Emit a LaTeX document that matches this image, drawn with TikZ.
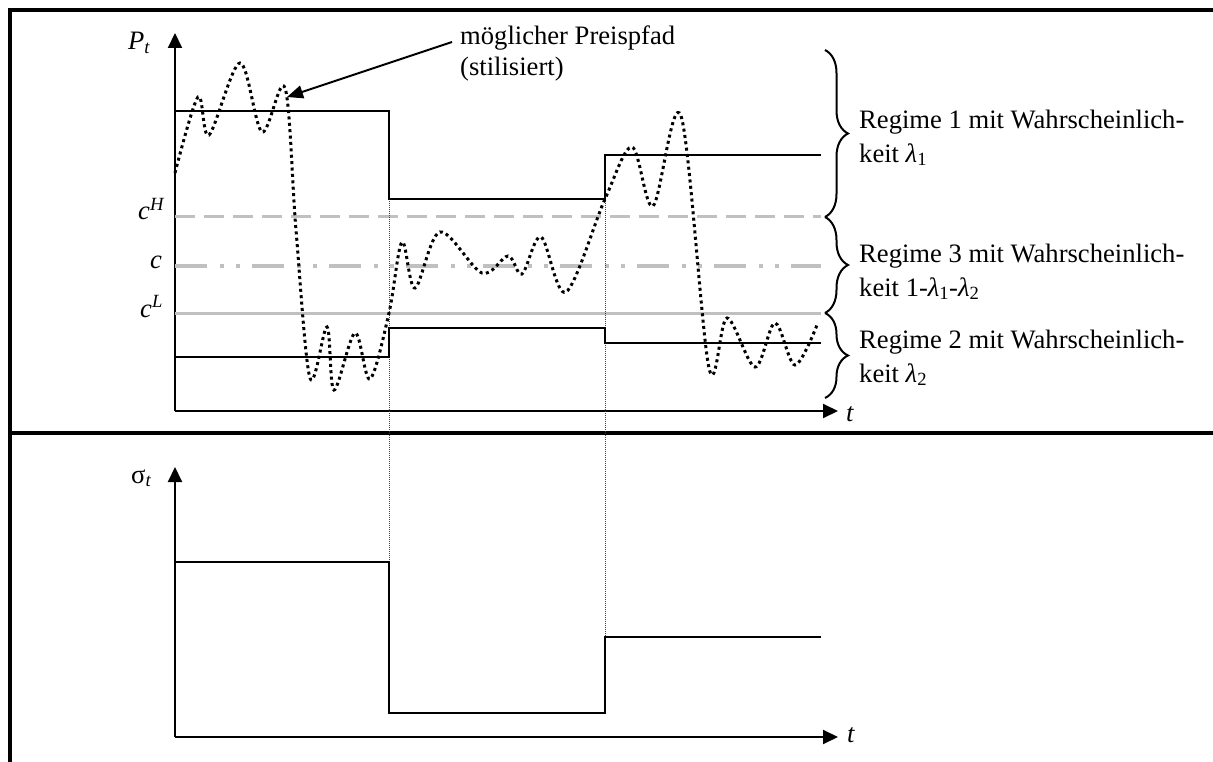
\documentclass[tikz,border=0pt]{standalone}
\usepackage{fontspec}
\setmainfont{Liberation Serif}
\usetikzlibrary{arrows.meta,decorations.pathreplacing}
\newcommand\lam[1]{\textit{λ}\textsubscript{#1}}
\begin{document}
\begin{tikzpicture}[x=1pt,y=-1pt,
  frame/.style={line width=3.8pt},
  axis/.style={line width=2pt,-{Triangle[length=15pt,width=14pt]}},
  stepline/.style={line width=2.6pt,line join=miter},
  guide/.style={line width=0.6pt,dash pattern=on 1pt off 1pt,black!75},
  pathdots/.style={line width=3pt,dash pattern=on 3pt off 3.4pt},
  levelgray/.style={color={rgb,255:red,192;green,192;blue,192}},
  lbl/.style={font=\fontsize{26.6}{33.5}\selectfont,inner sep=0pt},
  bracestyle/.style={line width=2pt,decorate,decoration={brace,amplitude=23pt}},
  pointer/.style={line width=2pt,-{Triangle[length=16pt,width=13pt]}}]
\useasboundingbox (0,0) rectangle (1213,762);
% frame
\draw[frame] (1213,10) -- (10,10) -- (10,762);
\draw[frame] (10,433) -- (1213,433);
% top panel axes
\coordinate (o1) at (175,411);
\draw[axis] (o1) -- (175,33);
\draw[axis] (o1) -- (838,411);
\node[lbl,anchor=base west] (pt) at (128,50) {\textit{P}\textsubscript{\textit{t}}};
\node[lbl,anchor=base west] (t1) at (846,421) {\textit{t}};
% level lines
\draw[levelgray,line width=3pt,dash pattern=on 20pt off 9pt] (175,217) -- (821,217);
\draw[levelgray,line width=3.3pt,dash pattern=on 32pt off 13pt on 4pt off 12pt on 4pt off 12pt] (175,266) -- (821,266);
\draw[levelgray,line width=3pt] (175,313) -- (821,313);
\node[lbl,anchor=base west] (cH) at (138,220) {\textit{c}\textsuperscript{\textit{H}}};
\node[lbl,anchor=base west] (cc) at (150,269) {\textit{c}};
\node[lbl,anchor=base west] (cL) at (140,317) {\textit{c}\textsuperscript{\textit{L}}};
% guides
\draw[guide] (389,199) -- (389,562);
\draw[guide] (605,199) -- (605,637);
% steps top
\draw[stepline] (175,111) -- (389,111) -- (389,199) -- (605,199) -- (605,155) -- (821,155);
\draw[stepline] (175,357) -- (389,357) -- (389,328) -- (605,328) -- (605,343) -- (821,343);
% price path
\draw[pathdots] plot[smooth,tension=0.55] coordinates {(175,173) (198,97) (209,135) (240,63) (262,132) (285,88) (296,230) (310,378) (327,327) (334,390) (355,333) (370,379) (389,313) (402,242) (415,288) (440,232) (482,273) (508,256) (522,274) (541,237) (566,292) (605,199) (632,147) (653,206) (681,116) (709,368) (727,318) (755,367) (775,323) (795,365) (817,325)};
% annotation
\node[lbl,font=\fontsize{26.6}{31}\selectfont,anchor=north west,align=left] (annot) at (460,26) {möglicher Preispfad\\(stilisiert)};
\coordinate (tipP) at (287,97);
\draw[pointer] ([shift={(-8,16)}]annot.north west) -- (tipP);
% braces
\draw[bracestyle] (825,50) -- (825,217);
\draw[bracestyle] (825,217) -- (825,313);
\draw[bracestyle] (825,313) -- (825,398);
\node[lbl,anchor=north west,align=left] (r1) at (859,110) {Regime 1 mit Wahrscheinlich-\\keit \lam{1}};
\node[lbl,anchor=north west,align=left] (r3) at (859,244) {Regime 3 mit Wahrscheinlich-\\keit 1-\lam{1}-\lam{2}};
\node[lbl,anchor=north west,align=left] (r2) at (859,330) {Regime 2 mit Wahrscheinlich-\\keit \lam{2}};
% bottom panel
\coordinate (o2) at (175,737);
\draw[axis] (o2) -- (175,467);
\draw[axis] (o2) -- (838,737);
\node[lbl,anchor=base west] (sig) at (131,483) {σ\textsubscript{\textit{t}}};
\node[lbl,anchor=base west] (t2) at (847,742) {\textit{t}};
\draw[stepline] (175,562) -- (389,562) -- (389,713) -- (605,713) -- (605,637) -- (821,637);
\end{tikzpicture}
\end{document}
